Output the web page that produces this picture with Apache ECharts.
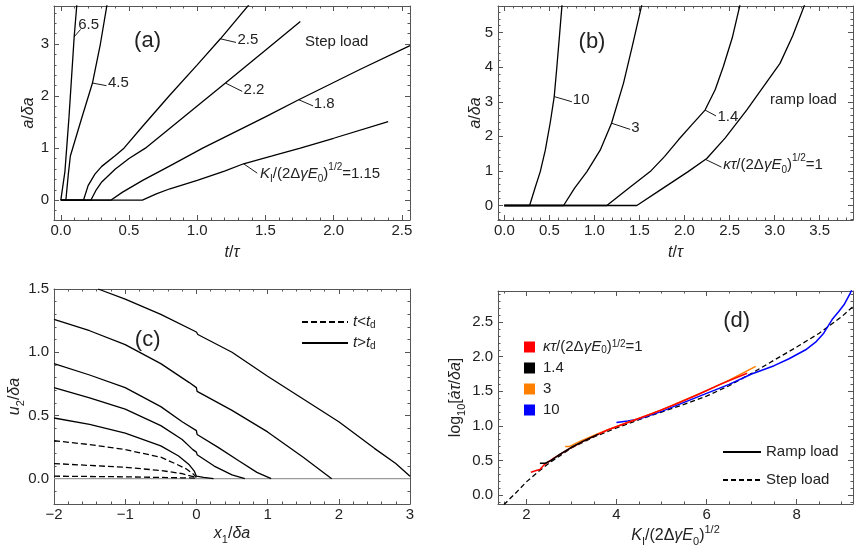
<!DOCTYPE html>
<html>
<head>
<meta charset="utf-8">
<script src="https://cdn.jsdelivr.net/npm/echarts@6/dist/echarts.min.js"></script>
<style>
  html, body { margin: 0; background: #fff; }
  #main { width: 860px; height: 558px; }
</style>
</head>
<body>
<div id="main"></div>
<script>
var FONT = '"Liberation Sans", Arial, sans-serif';
var INK = '#222';
var FRAME = '#555';

// (a) step load, [t/tau, a/delta a]
var aTicksX = [0, 0.5, 1, 1.5, 2, 2.5];
var aTicksY = [0, 1, 2, 3];
var stepK65 = [[0,0],[0.012,0],[0.03,0.55],[0.06,1.6],[0.098,3.14],[0.122,3.9]];
var stepK45 = [[0,0],[0.037,0],[0.055,0.5],[0.07,0.85],[0.15,1.55],[0.232,2.25],[0.29,3.0],[0.348,3.9]];
var stepK25 = [[0,0],[0.166,0],[0.2,0.28],[0.25,0.5],[0.3,0.65],[0.4,0.86],[0.463,1.0],[0.6,1.42],[0.8,2.02],[1.0,2.6],[1.17,3.1],[1.41,3.85]];
var stepK22 = [[0,0],[0.22,0],[0.26,0.2],[0.3,0.35],[0.4,0.6],[0.5,0.8],[0.62,1.0],[1.0,1.81],[1.207,2.25],[1.5,2.88],[1.756,3.43]];
var stepK18 = [[0,0],[0.366,0],[0.45,0.15],[0.6,0.38],[0.8,0.66],[1.04,1.0],[1.5,1.6],[1.744,1.93],[2.2,2.52],[2.56,2.97]];
var stepK115 = [[0,0],[0.598,0],[0.7,0.12],[0.8,0.22],[1.0,0.38],[1.2,0.56],[1.34,0.7],[1.55,0.85],[1.756,1.0],[2.0,1.19],[2.4,1.51]];
var aNotes = [
  [0.127, 3.37, '6.5'],
  [0.345, 2.25, '4.5'],
  [1.295, 3.08, '2.5'],
  [1.34, 2.11, '2.2'],
  [1.855, 1.86, '1.8'],
  [1.46, 0.51, '{i|K}{sub|I}/(2Δ{i|γE}{sub|0}){sup|1/2}=1.15'],
  [1.79, 3.05, 'Step load']
];
var aLeaders = [
  [[0.098,3.14],[0.145,3.28]], [[0.232,2.25],[0.335,2.2]], [[1.17,3.1],[1.285,3.03]],
  [[1.207,2.25],[1.33,2.09]], [[1.744,1.93],[1.85,1.81]], [[1.34,0.7],[1.44,0.52]]
];

// (b) ramp load
var bTicksX = [0, 0.5, 1, 1.5, 2, 2.5, 3, 3.5];
var bTicksY = [0, 1, 2, 3, 4, 5];
var rampK10 = [[0,0],[0.281,0],[0.34,0.5],[0.399,0.98],[0.455,1.6],[0.51,2.4],[0.554,3.15],[0.583,4.0],[0.612,4.9],[0.642,5.85]];
var rampK3 = [[0,0],[0.658,0],[0.78,0.5],[0.917,0.98],[1.064,1.6],[1.19,2.38],[1.323,3.54],[1.42,4.6],[1.53,5.85]];
var rampK14 = [[0,0],[1.138,0],[1.38,0.5],[1.619,0.98],[1.78,1.42],[1.933,1.9],[2.08,2.33],[2.228,2.76],[2.34,3.35],[2.431,4.02],[2.53,4.85],[2.62,5.85]];
var rampK1 = [[0,0],[1.471,0],[1.75,0.48],[2.04,0.98],[2.247,1.36],[2.45,1.95],[2.69,2.76],[2.88,3.45],[3.06,4.11],[3.2,4.9],[3.34,5.85]];
var bNotes = [
  [0.76, 3.05, '10'],
  [1.408, 2.24, '3'],
  [2.365, 2.57, '1.4'],
  [2.43, 1.18, '{i|κτ}/(2Δ{i|γE}{sub|0}){sup|1/2}=1'],
  [2.95, 3.05, 'ramp load']
];
var bLeaders = [
  [[0.554,3.15],[0.75,3.0]], [[1.19,2.38],[1.397,2.2]], [[2.228,2.76],[2.35,2.59]], [[2.235,1.33],[2.41,1.11]]
];

// (c) opening profiles, [x1/delta a, u2/delta a]
var cTicksX = [-2, -1, 0, 1, 2, 3];
var cTicksY = [0, 0.5, 1, 1.5];
var openS1 = [[-1.38,1.5],[-1,1.42],[-0.5,1.3],[0,1.16],[0.02,1.14],[0.5,1.0],[1,0.81],[1.5,0.63],[2,0.45],[2.5,0.24],[2.8,0.12],[3,0.02]];
var openS2 = [[-2,1.26],[-1.5,1.17],[-1,1.06],[-0.5,0.91],[-0.1,0.76],[0,0.72],[0.01,0.69],[0.5,0.54],[1,0.37],[1.5,0.17],[1.9,0]];
var openS3 = [[-2,0.91],[-1.5,0.82],[-1,0.72],[-0.5,0.57],[-0.2,0.45],[0,0.38],[0.01,0.35],[0.3,0.25],[0.6,0.14],[0.85,0.05],[1.05,0]];
var openS4 = [[-2,0.72],[-1.5,0.64],[-1,0.55],[-0.5,0.42],[-0.2,0.31],[-0.05,0.23],[0,0.21],[0.01,0.19],[0.25,0.1],[0.5,0.03],[0.68,0]];
var openS5 = [[-2,0.48],[-1.5,0.43],[-1,0.36],[-0.5,0.26],[-0.25,0.18],[-0.1,0.11],[-0.03,0.06],[0,0.02],[0.1,0.01],[0.24,0]];
var openD1 = [[-2,0.3],[-1.5,0.27],[-1,0.23],[-0.5,0.17],[-0.3,0.12],[-0.15,0.08],[-0.05,0.04],[0,0.01]];
var openD2 = [[-2,0.12],[-1.5,0.105],[-1,0.09],[-0.5,0.065],[-0.2,0.04],[0,0.01]];
var openD3 = [[-2,0.02],[-1,0.015],[0,0.005]];
var crackFace = [[-2,0],[3,0]];

// (d) velocity vs load
var dTicksX = [2, 4, 6, 8];
var dTicksY = [0, 0.5, 1, 1.5, 2, 2.5];
var velStep = [[1.5,-0.14],[1.75,0.02],[2,0.19],[2.25,0.33],[2.5,0.46],[2.75,0.57],[3,0.68],[3.5,0.84],[4,0.97],[4.5,1.09],[5,1.2],[5.5,1.31],[6,1.43],[6.5,1.58],[7,1.76],[7.5,1.95],[8,2.14],[8.5,2.34],[9,2.58],[9.26,2.73]];
var velK10 = [[4.0,1.05],[4.25,1.07],[4.5,1.1],[5,1.21],[5.5,1.34],[6,1.47],[6.5,1.6],[7,1.75],[7.5,1.87],[7.83,1.97],[8.2,2.1],[8.42,2.21],[8.6,2.34],[8.8,2.55],[8.93,2.65],[9.05,2.75],[9.19,2.92],[9.23,2.98]];
var velK3 = [[2.86,0.7],[2.95,0.7],[3.2,0.78],[3.6,0.89],[4,0.99],[4.5,1.11],[5,1.23],[5.5,1.37],[6,1.51],[6.5,1.66],[7.09,1.86]];
var velK1 = [[2.1,0.33],[2.2,0.35],[2.3,0.37],[2.4,0.44],[2.6,0.53],[2.9,0.65],[3.3,0.79],[3.8,0.94],[4.3,1.06],[4.8,1.18],[5.3,1.31],[5.8,1.45],[6.3,1.6],[6.9,1.76]];
var velK14 = [[2.3,0.46],[2.42,0.46],[2.55,0.5],[2.75,0.59],[3.0,0.69],[3.3,0.79],[3.6,0.88]];

function minorTicks(min, max, step, majors) {
  var out = [];
  for (var k = Math.ceil(min / step - 1e-9); k * step <= max + 1e-9; k++) {
    var v = +(k * step).toFixed(6);
    if (majors.indexOf(v) < 0) out.push(v);
  }
  return out;
}

function rich(size, lh) {
  var base = {fontFamily: FONT, color: INK, fontSize: size, lineHeight: lh};
  var small = Math.round(size * 0.68);
  return {
    i: Object.assign({}, base, {fontStyle: 'italic'}),
    n: Object.assign({}, base),
    sub: {fontFamily: FONT, color: INK, fontSize: small, lineHeight: Math.round(size * 0.95), verticalAlign: 'bottom'},
    sup: {fontFamily: FONT, color: INK, fontSize: small, lineHeight: Math.round(size * 0.95), verticalAlign: 'top'}
  };
}
function txt(size, lh) {
  lh = lh || Math.round(size * 1.45);
  return {fontFamily: FONT, color: INK, fontSize: size, lineHeight: lh, rich: rich(size, lh)};
}

function frameAxes(dim, gi, min, max, majors, minorStep, fmt, name, nameGap) {
  var minors = minorTicks(min, max, minorStep, majors);
  var pos = dim === 'x' ? ['bottom', 'top'] : ['left', 'right'];
  function ax(p, ticks, len, main, labelled) {
    return {
      type: 'value', gridIndex: gi, position: p, min: min, max: max, silent: true,
      splitLine: {show: false},
      axisLine: {show: main, onZero: false, lineStyle: {color: FRAME, width: 1}},
      axisTick: {show: true, inside: true, length: len, customValues: ticks, lineStyle: {color: FRAME, width: 1}},
      axisLabel: {show: labelled, customValues: majors, formatter: fmt, margin: dim === 'x' ? 3 : 5,
        color: INK, fontFamily: FONT, fontSize: 15},
      name: labelled ? name : '',
      nameLocation: 'middle',
      nameGap: nameGap,
      nameMoveOverlap: false,
      nameTextStyle: txt(16)
    };
  }
  return [ax(pos[0], majors, 5, true, true), ax(pos[0], minors, 2.5, false, false),
          ax(pos[1], majors, 5, true, false), ax(pos[1], minors, 2.5, false, false)];
}

function fix1(v) { return v.toFixed(1); }
function int0(v) { return String(Math.round(v)).replace('-', '\u2212'); }

function curve(gi, data, extra) {
  return Object.assign({
    type: 'line', xAxisIndex: gi * 4, yAxisIndex: gi * 4, data: data,
    symbol: 'none', silent: true, clip: true, color: '#000',
    lineStyle: {color: '#000', width: 1.3}
  }, extra || {});
}
function leaders(gi, list) {
  return list.map(function (seg) {
    return curve(gi, seg, {lineStyle: {color: '#000', width: 0.9}});
  });
}
function notes(gi, list, size) {
  return {
    type: 'scatter', xAxisIndex: gi * 4, yAxisIndex: gi * 4, symbolSize: 0, silent: true,
    itemStyle: {opacity: 1, color: '#000'},
    data: list.map(function (n) {
      return {value: [n[0], n[1]], label: {formatter: n[2]}};
    }),
    label: Object.assign({show: true, position: 'right', distance: 0, opacity: 1}, txt(size))
  };
}

var series = [];
// (a)
[stepK115, stepK18, stepK22, stepK25, stepK45, stepK65].forEach(function (d) { series.push(curve(0, d)); });
series = series.concat(leaders(0, aLeaders));
series.push(notes(0, aNotes, 15));
series.push(notes(0, [[0.537, 3.05, '(a)']], 22));
// (b)
[rampK1, rampK14, rampK3, rampK10].forEach(function (d) { series.push(curve(1, d)); });
series = series.concat(leaders(1, bLeaders));
series.push(notes(1, bNotes, 15));
series.push(notes(1, [[0.824, 4.74, '(b)']], 22));
// (c)
series.push(curve(2, crackFace, {lineStyle: {color: '#9a9a9a', width: 1.2}}));
[openD1, openD2, openD3].forEach(function (d) {
  series.push(curve(2, d, {name: 't<td', lineStyle: {color: '#000', width: 1.3, type: [6, 3]}}));
});
[openS1, openS2, openS3, openS4, openS5].forEach(function (d) {
  series.push(curve(2, d, {name: 't>td'}));
});
series.push(notes(2, [[-0.865, 1.1, '(c)']], 22));
// (d)
series.push(curve(3, velStep, {name: 'Step load', lineStyle: {color: '#000', width: 1.3, type: [5, 3]}}));
series.push(curve(3, [], {name: 'Ramp load'}));
series.push(curve(3, velK10, {name: '10', color: '#0000ff', lineStyle: {color: '#0000ff', width: 1.5}}));
series.push(curve(3, velK3, {name: '3', color: '#ff8000', lineStyle: {color: '#ff8000', width: 1.5}}));
series.push(curve(3, velK1, {name: '1', color: '#ff0000', lineStyle: {color: '#ff0000', width: 1.5}}));
series.push(curve(3, velK14, {name: '1.4', color: '#000000', lineStyle: {color: '#000', width: 1.5}}));
series.push(notes(3, [[6.37, 2.51, '(d)']], 22));

var legendText = txt(15, 16);
var option = {
  animation: false,
  backgroundColor: '#fff',
  grid: [
    {left: 54, top: 6, width: 356, height: 214},
    {left: 498, top: 6, width: 355, height: 214},
    {left: 54, top: 289, width: 356, height: 215},
    {left: 498, top: 291, width: 355, height: 213}
  ],
  xAxis: [].concat(
    frameAxes('x', 0, -0.05, 2.56, aTicksX, 0.1, fix1, '{i|t}/{i|τ}', 21),
    frameAxes('x', 1, -0.07, 3.87, bTicksX, 0.1, fix1, '{i|t}/{i|τ}', 21),
    frameAxes('x', 2, -2, 3, cTicksX, 0.2, int0, '{i|x}{sub|1}/{i|δa}', 18),
    frameAxes('x', 3, 1.37, 9.25, dTicksX, 0.5, int0, '{i|K}{sub|I}/(2Δ{i|γE}{sub|0}){sup|1/2}', 20)
  ),
  yAxis: [].concat(
    frameAxes('y', 0, -0.38, 3.73, aTicksY, 0.2, int0, '{i|a}/{i|δa}', 14),
    frameAxes('y', 1, -0.42, 5.77, bTicksY, 0.2, int0, '{i|a}/{i|δa}', 11),
    frameAxes('y', 2, -0.2, 1.5, cTicksY, 0.1, fix1, '{i|u}{sub|2}/{i|δa}', 28),
    frameAxes('y', 3, -0.13, 2.95, dTicksY, 0.1, fix1, 'log{sub|10}[{i|ȧτ}/{i|δa}]', 31)
  ),
  legend: [
    {
      data: ['t<td', 't>td'], orient: 'vertical', left: 296, top: 309,
      itemWidth: 46, itemHeight: 12, itemGap: 5, selectedMode: false,
      itemStyle: {opacity: 0},
      formatter: function (n) { return '{i|t}' + (n === 't<td' ? '<' : '>') + '{i|t}{sub|d}'; },
      textStyle: legendText
    },
    {
      data: ['1', '1.4', '3', '10'], orient: 'vertical', left: 519, top: 334,
      icon: 'rect', itemWidth: 11, itemHeight: 11, itemGap: 5, selectedMode: false,
      formatter: function (n) {
        return n === '1' ? '{i|κτ}/(2Δ{i|γE}{sub|0}){sup|1/2}=1' : n;
      },
      textStyle: Object.assign({}, legendText, {padding: [0, 0, 0, 3]})
    },
    {
      data: ['Ramp load', 'Step load'], orient: 'vertical', left: 717, top: 439,
      itemWidth: 38, itemHeight: 12, itemGap: 12, selectedMode: false,
      itemStyle: {opacity: 0},
      textStyle: legendText
    }
  ],
  series: series
};

var chart = echarts.init(document.getElementById('main'), null, {renderer: 'canvas'});
chart.setOption(option);
</script>
</body>
</html>
